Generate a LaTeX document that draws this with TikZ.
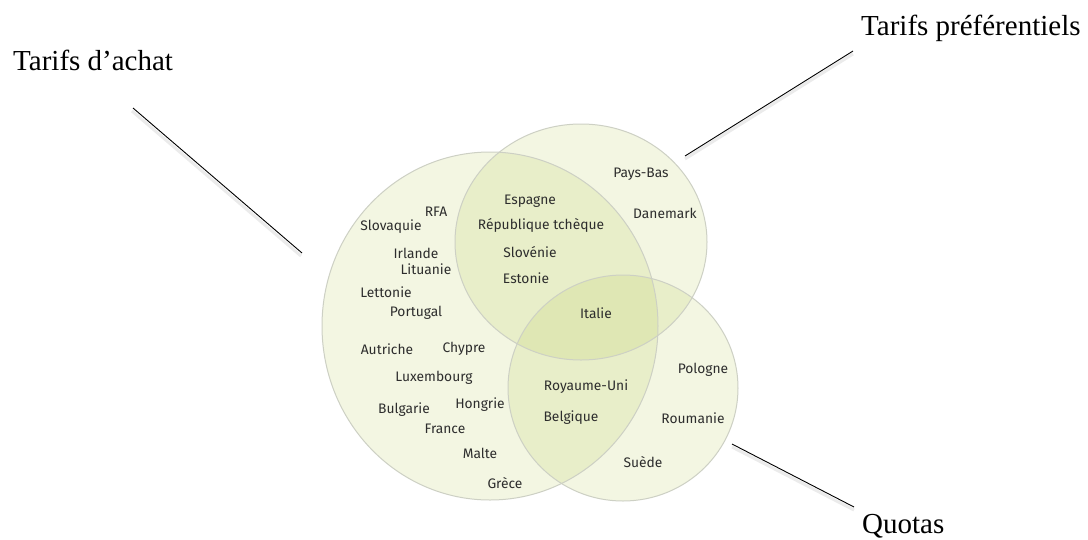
\documentclass[tikz,border=0pt]{standalone}
\usepackage{fontspec}
\setmainfont{Liberation Serif}
\newfontfamily\labelfont{Fira Sans}
\definecolor{vennfill}{RGB}{175,195,62}
\definecolor{vennline}{RGB}{205,208,196}
\definecolor{txtgray}{RGB}{45,45,45}
\tikzset{
  venn/.style={ellipse, inner sep=0pt, draw=vennline, line width=1pt},
  vennarea/.style={fill=vennfill, fill opacity=0.15},
  country/.style={font=\labelfont\fontsize{13.8}{16}\selectfont, text=txtgray, inner sep=0pt},
  title/.style={font=\fontsize{29}{34}\selectfont, inner sep=0pt, anchor=base west},
  leader/.style={line width=0.9pt, black},
  leadershadow/.style={line width=3pt, black, opacity=0.08},
}
\usetikzlibrary{shapes.geometric}
\begin{document}
\begin{tikzpicture}[x=1pt,y=-1pt]
\useasboundingbox[fill=white] (0,0) rectangle (1088,539);
% areas
\fill[vennarea] (490,326) ellipse [x radius=168, y radius=174];
\fill[vennarea] (581,242) ellipse [x radius=126, y radius=118];
\fill[vennarea] (623,388) ellipse [x radius=115, y radius=113];
% outlines as named nodes
\node[venn, minimum width=336pt, minimum height=348pt] (achat) at (490,326) {};
\node[venn, minimum width=252pt, minimum height=236pt] (pref) at (581,242) {};
\node[venn, minimum width=230pt, minimum height=226pt] (quota) at (623,388) {};
% titles
\node[title] (tachat) at (13,70) {Tarifs d’achat};
\node[title] (tpref) at (861,35) {Tarifs préférentiels};
\node[title] (tquota) at (862,533) {Quotas};
% leader ends
\coordinate (a1) at (133,108); \coordinate (a2) at (302,253);
\coordinate (p1) at (853,51);  \coordinate (p2) at (685,156);
\coordinate (q1) at (732,444); \coordinate (q2) at (854,507);
\draw[leadershadow] ([shift={(-1,3)}]a1) -- ([shift={(-1,3)}]a2);
\draw[leadershadow] ([shift={(0,3)}]p1) -- ([shift={(0,3)}]p2);
\draw[leadershadow] ([shift={(0,3)}]q1) -- ([shift={(0,3)}]q2);
\draw[leader] (a1) -- (a2);
\draw[leader] (p1) -- (p2);
\draw[leader] (q1) -- (q2);
% countries
\node[country] (c1) at (641,174) {Pays-Bas};
\node[country] (c2) at (530,201) {Espagne};
\node[country] (c3) at (436,212) {RFA};
\node[country] (c4) at (665,213) {Danemark};
\node[country] (c5) at (391,227) {Slovaquie};
\node[country] (c6) at (541,225) {République tchèque};
\node[country] (c7) at (416,253) {Irlande};
\node[country] (c8) at (530,252) {Slovénie};
\node[country] (c9) at (426,269) {Lituanie};
\node[country] (c10) at (526,278) {Estonie};
\node[country] (c11) at (386,292) {Lettonie};
\node[country] (c12) at (416,313) {Portugal};
\node[country] (c13) at (596,313) {Italie};
\node[country] (c14) at (387,349) {Autriche};
\node[country] (c15) at (464,349) {Chypre};
\node[country] (c16) at (434,378) {Luxembourg};
\node[country] (c17) at (586,387) {Royaume-Uni};
\node[country] (c18) at (703,370) {Pologne};
\node[country] (c19) at (480,405) {Hongrie};
\node[country] (c20) at (404,410) {Bulgarie};
\node[country] (c21) at (571,418) {Belgique};
\node[country] (c22) at (693,418) {Roumanie};
\node[country] (c23) at (445,429) {France};
\node[country] (c24) at (480,453) {Malte};
\node[country] (c25) at (643,462) {Suède};
\node[country] (c26) at (505,483) {Grèce};
\end{tikzpicture}
\end{document}
